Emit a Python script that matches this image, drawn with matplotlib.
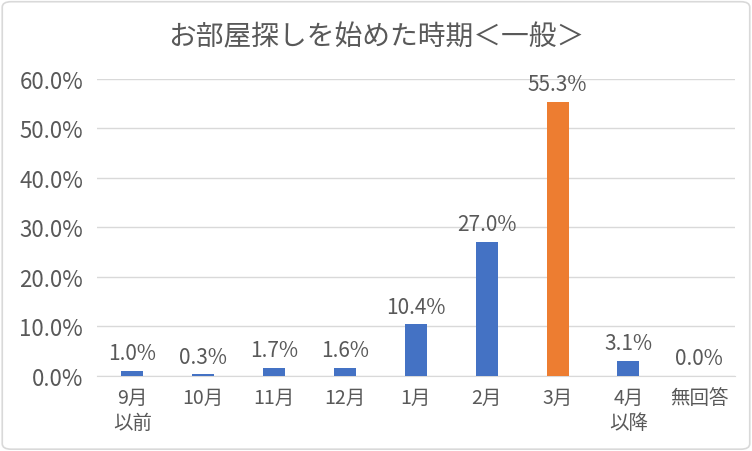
import matplotlib.pyplot as plt
from matplotlib.patches import FancyBboxPatch
from matplotlib.ticker import FuncFormatter

plt.rcParams["font.family"] = ["Noto Sans CJK JP", "DejaVu Sans"]

TITLE = "お部屋探しを始めた時期＜一般＞"
categories = ["9月\n以前", "10月", "11月", "12月", "1月", "2月", "3月", "4月\n以降", "無回答"]
values = [1.0, 0.3, 1.7, 1.6, 10.4, 27.0, 55.3, 3.1, 0.0]
highlight = "3月"

BLUE = "#4472C4"
ORANGE = "#ED7D31"
TEXT = "#595959"
GRID = "#D9D9D9"

fig = plt.figure(figsize=(7.52, 4.52), dpi=100)
ax = fig.add_axes([0.129, 0.166, 0.848, 0.657])

# rounded grey frame round the whole chart
frame = FancyBboxPatch((0.003, 0.004), 0.994, 0.99,
                       boxstyle="round,pad=0,rounding_size=0.012",
                       transform=fig.transFigure, facecolor="white",
                       edgecolor="#D9D9D9", linewidth=1.2, zorder=-10)
fig.patches.append(frame)

x = range(len(categories))
colors = [ORANGE if c == highlight else BLUE for c in categories]
bars = ax.bar(x, values, width=0.31, color=colors, zorder=3)

for rect, v in zip(bars, values):
    ax.annotate(f"{v:.1f}%", (rect.get_x() + rect.get_width() / 2, v),
                xytext=(0, 5), textcoords="offset points",
                ha="center", va="bottom", fontsize=15, color=TEXT)

ax.set_ylim(0, 60)
ax.set_xlim(-0.5, len(categories) - 0.5)
ax.set_yticks(range(0, 61, 10))
ax.yaxis.set_major_formatter(FuncFormatter(lambda v, p: f"{v:.1f}%"))
ax.set_xticks(list(x))
ax.set_xticklabels(categories, fontsize=14, color=TEXT, linespacing=1.25)
ax.tick_params(axis="y", labelsize=16, labelcolor=TEXT, length=0, pad=10)
ax.tick_params(axis="x", length=0, pad=8)
ax.grid(axis="y", color=GRID, linewidth=1, zorder=0)
for s in ["top", "right", "left"]:
    ax.spines[s].set_visible(False)
ax.spines["bottom"].set_color(GRID)
ax.set_facecolor("none")

fig.text(0.5, 0.918, TITLE, ha="center", va="center", fontsize=20, color=TEXT)

fig.savefig("out.png", dpi=100)
